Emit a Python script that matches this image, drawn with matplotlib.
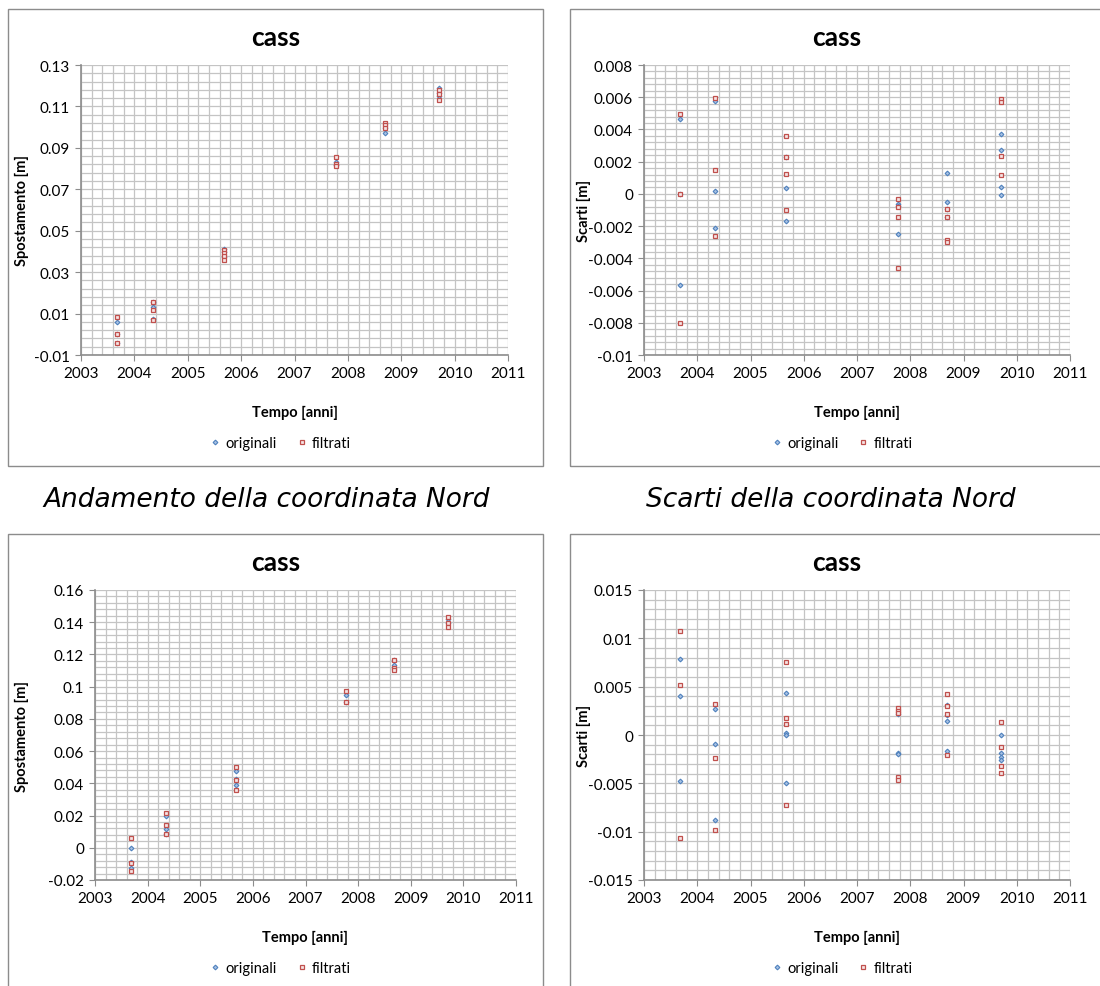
import numpy as np
import matplotlib
matplotlib.use("Agg")
import matplotlib.pyplot as plt
from matplotlib.patches import Rectangle
from matplotlib.ticker import FixedLocator, FuncFormatter

plt.rcParams['font.family'] = ['Lato', 'DejaVu Sans']

# epoche di misura (anni decimali)
ep = [2003.68, 2004.34, 2005.67, 2007.77, 2008.69, 2009.71]

# --- Spostamento (in alto a sinistra) ---
sp1_orig = [[0.0061, 0.0001, -0.0044],
            [0.0157, 0.0130, 0.0073],
            [0.0414, 0.0395, 0.0371],
            [0.0832, 0.0818],
            [0.0998, 0.0974],
            [0.1189, 0.1167, 0.1151]]
sp1_filt = [[0.0082, 0.0001, -0.0044],
            [0.0157, 0.0119, 0.0070],
            [0.0408, 0.0392, 0.0376, 0.0358],
            [0.0855, 0.0821, 0.0813],
            [0.1019, 0.1009, 0.0995],
            [0.1179, 0.1162, 0.1130]]

# --- Scarti (in alto a destra) ---
sc1_orig = [[0.00467, 0.00002, -0.00566],
            [0.00579, 0.00021, -0.00213],
            [0.00227, 0.00037, -0.00167],
            [-0.00062, -0.00076, -0.00248],
            [0.00130, -0.00052, -0.00091, -0.00143],
            [0.00370, 0.00271, 0.00043, -0.00004]]
sc1_filt = [[0.00494, 0.00002, -0.00802],
            [0.00595, 0.00147, -0.00262],
            [0.00358, 0.00227, 0.00126, -0.00101],
            [-0.00033, -0.00083, -0.00143, -0.00463],
            [-0.00091, -0.00143, -0.00287, -0.00300],
            [0.00589, 0.00570, 0.00238, 0.00118]]

# --- Spostamento (in basso a sinistra) ---
sp2_orig = [[0.0, -0.0087, -0.0124],
            [0.0197, 0.0118, 0.0083],
            [0.0476, 0.0428, 0.0387],
            [0.0946, 0.0906],
            [0.1165, 0.1132],
            [0.1417, 0.1397]]
sp2_filt = [[0.0062, -0.0093, -0.0145],
            [0.0213, 0.0139, 0.0083],
            [0.0503, 0.0418, 0.0356],
            [0.0972, 0.0906],
            [0.1167, 0.1118, 0.1103],
            [0.1430, 0.1397, 0.1372]]

# --- Scarti (in basso a destra) ---
sc2_orig = [[0.0079, 0.00403, -0.00476],
            [0.00266, -0.00093, -0.00879],
            [0.00438, 0.00021, 0.00003, -0.00497],
            [0.00221, -0.00183, -0.00200],
            [0.00307, 0.00203, 0.00145, -0.00166],
            [0.0, -0.00186, -0.00228, -0.00255]]
sc2_filt = [[0.01079, 0.00521, -0.01062],
            [0.00321, -0.00241, -0.00986],
            [0.00752, 0.00172, 0.00110, -0.00724],
            [0.00276, 0.00245, 0.00224, -0.00438, -0.00469],
            [0.00428, 0.00303, 0.00221, -0.00207],
            [0.00131, -0.00128, -0.00321, -0.00390]]

BLU = '#4F81BD'
ROSSO = '#C0504D'
W, H = 1100, 987


def fx(x):
    return x / W


def fy(y):
    return 1 - y / H


def espandi(vals):
    xs, ys = [], []
    for e, v in zip(ep, vals):
        xs += [e] * len(v)
        ys += v
    return xs, ys


def fmt(v, pos):
    s = f'{v:.4f}'.rstrip('0').rstrip('.')
    return '0' if s in ('-0', '0', '') else s


def grafico(fig, box, area, orig, filt, ylim, ystep, ylabel):
    # cornice del grafico (stile Excel)
    bx0, by0, bx1, by1 = box
    fig.patches.append(Rectangle((fx(bx0), fy(by1)), fx(bx1 - bx0), (by1 - by0) / H,
                                 transform=fig.transFigure, fill=False,
                                 edgecolor='#8c8c8c', linewidth=1.0, zorder=0))
    x0, y0, x1, y1 = area
    ax = fig.add_axes([fx(x0), fy(y1), fx(x1 - x0), (y1 - y0) / H])
    ax.set_xlim(2003, 2011)
    ax.set_ylim(*ylim)
    # tacche principali a partire dal minimo dell'asse, come in Excel
    n = int(round((ylim[1] - ylim[0]) / ystep))
    ax.xaxis.set_major_locator(FixedLocator(np.arange(2003, 2012)))
    ax.xaxis.set_minor_locator(FixedLocator(np.linspace(2003, 2011, 41)))
    ax.yaxis.set_major_locator(FixedLocator(np.linspace(ylim[0], ylim[1], n + 1)))
    ax.yaxis.set_minor_locator(FixedLocator(np.linspace(ylim[0], ylim[1], 5 * n + 1)))
    ax.yaxis.set_major_formatter(FuncFormatter(fmt))
    ax.grid(True, which='both', color='#c4c4c4', linewidth=0.9)
    ax.set_axisbelow(True)
    for s in ['top', 'right']:
        ax.spines[s].set_visible(False)
    for s in ['left', 'bottom']:
        ax.spines[s].set_color('#8c8c8c')
        ax.spines[s].set_linewidth(1.2)
    ax.tick_params(which='major', length=4, color='#8c8c8c', labelsize=11, pad=4)
    ax.tick_params(which='minor', length=0)

    xo, yo = espandi(orig)
    xf, yf = espandi(filt)
    ax.plot(xo, yo, linestyle='none', marker='D', markersize=2.4,
            markerfacecolor='#a8c2e4', markeredgecolor=BLU, markeredgewidth=0.8,
            label='originali', zorder=3)
    ax.plot(xf, yf, linestyle='none', marker='s', markersize=3.4,
            markerfacecolor='#f6e4e4', markeredgecolor=ROSSO, markeredgewidth=0.9,
            label='filtrati', zorder=3)

    cx = (bx0 + bx1) / 2
    fig.text(fx(cx), fy(by0 + 28), 'cass', ha='center', va='center',
             fontsize=19, fontweight='bold')
    fig.text(fx((x0 + x1) / 2), fy(y1 + 57), 'Tempo [anni]', ha='center', va='center',
             fontsize=10.5, fontweight='bold')
    fig.text(fx(bx0 + 14), fy((y0 + y1) / 2), ylabel, ha='center', va='center',
             rotation=90, fontsize=10.5, fontweight='bold')
    ax.legend(loc='center', bbox_to_anchor=(fx(cx + 4), fy(y1 + 88)),
              bbox_transform=fig.transFigure, ncol=2, frameon=False,
              fontsize=10.5, handletextpad=0.2, columnspacing=1.2, handlelength=1.0)
    return ax


fig = plt.figure(figsize=(11, 9.87), dpi=100)

grafico(fig, (8, 10, 543, 467), (81, 66, 508, 356), sp1_orig, sp1_filt,
        (-0.01, 0.13), 0.02, 'Spostamento [m]')
grafico(fig, (570, 10, 1104, 467), (644, 66, 1070, 356), sc1_orig, sc1_filt,
        (-0.01, 0.008), 0.002, 'Scarti [m]')
grafico(fig, (8, 535, 543, 995), (95, 591, 516, 881), sp2_orig, sp2_filt,
        (-0.02, 0.16), 0.02, 'Spostamento [m]')
grafico(fig, (570, 535, 1104, 995), (644, 591, 1070, 881), sc2_orig, sc2_filt,
        (-0.015, 0.015), 0.005, 'Scarti [m]')

fig.text(fx(267), fy(500), 'Andamento della coordinata Nord', ha='center', va='center',
         fontsize=19, style='italic', family='DejaVu Sans')
fig.text(fx(831), fy(500), 'Scarti della coordinata Nord', ha='center', va='center',
         fontsize=19, style='italic', family='DejaVu Sans')

fig.savefig('out.png', dpi=100)
